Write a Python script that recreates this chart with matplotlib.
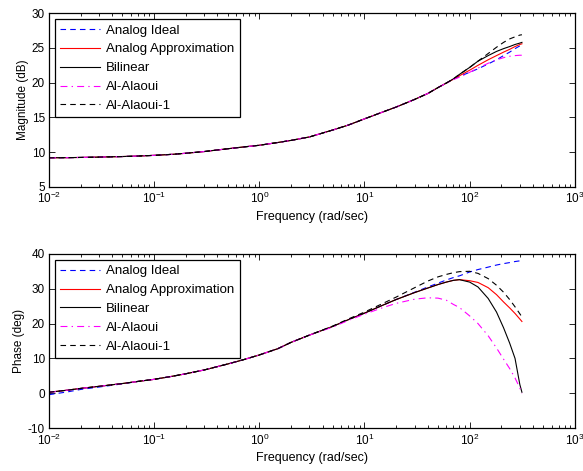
import matplotlib
matplotlib.use("Agg")
import matplotlib.pyplot as plt
from matplotlib.ticker import LogLocator, NullFormatter

plt.rcParams['font.family'] = ['Liberation Sans', 'DejaVu Sans']
plt.rcParams['mathtext.fontset'] = 'custom'
plt.rcParams['mathtext.rm'] = 'Liberation Sans'
plt.rcParams['mathtext.it'] = 'Liberation Sans:italic'
plt.rcParams['mathtext.bf'] = 'Liberation Sans:bold'
plt.rcParams['axes.unicode_minus'] = False
plt.rcParams['lines.scale_dashes'] = False

# Frequency grid (rad/sec)
freq = [0.01, 0.015, 0.02, 0.03, 0.05, 0.07, 0.1, 0.15, 0.2, 0.3, 0.5, 0.7,
        1, 1.5, 2, 3, 5, 7, 10, 15, 20, 30, 40, 50, 60, 70,
        80, 100, 120, 150, 180, 210, 240, 270, 300, 314]

# Magnitude responses (dB)
mag_ideal = [9.20, 9.22, 9.25, 9.30, 9.38, 9.45, 9.55, 9.70, 9.85, 10.10, 10.50, 10.75,
             11.00, 11.40, 11.70, 12.20, 13.20, 13.90, 14.80, 15.80, 16.50, 17.60, 18.45, 19.30, 19.95, 20.50,
             20.90, 21.50, 22.00, 22.70, 23.30, 23.90, 24.40, 24.90, 25.30, 25.50]
mag_approx = [9.20, 9.22, 9.25, 9.30, 9.38, 9.45, 9.55, 9.70, 9.85, 10.10, 10.50, 10.75,
              11.00, 11.40, 11.70, 12.20, 13.20, 13.90, 14.80, 15.80, 16.50, 17.60, 18.45, 19.30, 19.95, 20.50,
              21.00, 21.80, 22.50, 23.30, 23.90, 24.40, 24.80, 25.20, 25.50, 25.60]
mag_bilinear = [9.20, 9.22, 9.25, 9.30, 9.38, 9.45, 9.55, 9.70, 9.85, 10.10, 10.50, 10.75,
                11.00, 11.40, 11.70, 12.20, 13.20, 13.90, 14.80, 15.80, 16.50, 17.60, 18.45, 19.30, 19.95, 20.55,
                21.20, 22.20, 23.10, 23.90, 24.50, 24.90, 25.20, 25.50, 25.70, 25.80]
mag_alaoui = [9.20, 9.22, 9.25, 9.30, 9.38, 9.45, 9.55, 9.70, 9.85, 10.10, 10.50, 10.75,
              11.00, 11.40, 11.70, 12.20, 13.20, 13.90, 14.80, 15.80, 16.50, 17.60, 18.45, 19.30, 19.95, 20.45,
              20.80, 21.50, 22.10, 22.80, 23.30, 23.60, 23.80, 23.90, 23.95, 23.95]
mag_alaoui1 = [9.20, 9.22, 9.25, 9.30, 9.38, 9.45, 9.55, 9.70, 9.85, 10.10, 10.50, 10.75,
               11.00, 11.40, 11.70, 12.20, 13.20, 13.90, 14.80, 15.80, 16.50, 17.60, 18.45, 19.30, 19.95, 20.55,
               21.20, 22.20, 23.10, 24.20, 25.10, 25.80, 26.30, 26.60, 26.85, 26.90]

# Phase responses (deg)
ph_ideal = [-0.4, 0.4, 1.1, 1.8, 2.7, 3.4, 4.0, 4.9, 5.6, 6.7, 8.4, 9.6,
            11.0, 12.8, 14.6, 16.7, 19.2, 21.1, 23.0, 25.3, 26.9, 29.0, 30.5, 31.6, 32.5, 33.2,
            33.7, 34.8, 35.5, 36.2, 36.8, 37.2, 37.5, 37.8, 38.0, 38.1]
ph_approx = [0.3, 0.9, 1.4, 2.0, 2.8, 3.4, 4.0, 4.9, 5.6, 6.7, 8.4, 9.6,
             11.0, 12.8, 14.6, 16.7, 19.2, 21.1, 23.0, 25.3, 26.9, 28.9, 30.2, 31.2, 31.9, 32.4,
             32.6, 32.3, 31.8, 30.3, 28.3, 26.2, 24.5, 22.9, 21.3, 20.6]
ph_bilinear = [0.3, 0.9, 1.4, 2.0, 2.8, 3.4, 4.0, 4.9, 5.6, 6.7, 8.4, 9.6,
               11.0, 12.8, 14.6, 16.7, 19.2, 21.1, 23.0, 25.3, 26.9, 28.9, 30.2, 31.2, 31.9, 32.4,
               32.6, 31.9, 30.5, 27.2, 23.3, 18.8, 14.4, 10.0, 2.5, 0.3]
ph_alaoui = [0.3, 0.9, 1.4, 2.0, 2.8, 3.4, 4.0, 4.9, 5.6, 6.7, 8.4, 9.6,
             11.0, 12.8, 14.6, 16.7, 19.0, 20.9, 22.7, 24.6, 25.8, 27.0, 27.4, 27.3, 26.7, 25.5,
             24.6, 22.2, 20.0, 16.5, 13.0, 9.8, 7.1, 4.4, 1.5, 0.0]
ph_alaoui1 = [0.3, 0.9, 1.4, 2.0, 2.8, 3.4, 4.0, 4.9, 5.6, 6.7, 8.4, 9.6,
              11.0, 12.8, 14.6, 16.7, 19.3, 21.3, 23.3, 25.8, 27.6, 30.3, 32.2, 33.4, 34.1, 34.6,
              34.9, 35.0, 34.4, 32.9, 31.0, 29.0, 26.9, 24.8, 22.8, 21.9]

labels = ['Analog Ideal', 'Analog Approximation', 'Bilinear', 'Al-Alaoui', 'Al-Alaoui-1']
colors = ['#0000ff', '#ff0000', '#000000', '#ff00ff', '#000000']
styles = [(0, (4, 3)), '-', '-', (0, (5, 3, 1, 3)), (0, (4, 3))]

fig = plt.figure(figsize=(5.83, 4.71), dpi=100)
ax1 = fig.add_axes([0.084, 0.603, 0.902, 0.369])
ax2 = fig.add_axes([0.084, 0.091, 0.902, 0.370])


def style_axis(ax, ylim, yticks, ylabel):
    ax.set_xscale('log')
    ax.set_xlim(1e-2, 1e3)
    ax.set_ylim(*ylim)
    ax.set_yticks(yticks)
    ax.xaxis.set_major_locator(LogLocator(base=10, numticks=10))
    ax.xaxis.set_minor_locator(LogLocator(base=10, subs=range(2, 10), numticks=20))
    ax.xaxis.set_minor_formatter(NullFormatter())
    ax.tick_params(which='both', direction='in', top=True, right=True,
                   labelsize=8.5, width=0.6, colors='black', pad=3)
    ax.tick_params(which='major', length=4)
    ax.tick_params(which='minor', length=2)
    for s in ax.spines.values():
        s.set_linewidth(0.9)
    ax.set_xlabel('Frequency (rad/sec)', fontsize=9, labelpad=3)
    ax.set_ylabel(ylabel, fontsize=8.5, labelpad=2)


mags = [mag_ideal, mag_approx, mag_bilinear, mag_alaoui, mag_alaoui1]
phases = [ph_ideal, ph_approx, ph_bilinear, ph_alaoui, ph_alaoui1]

for ax, data in ((ax1, mags), (ax2, phases)):
    for y, lab, c, ls in zip(data, labels, colors, styles):
        ax.plot(freq, y, color=c, linestyle=ls, linewidth=0.8, label=lab)
    leg = ax.legend(loc='upper left', fontsize=9.5, frameon=True, fancybox=False,
                    edgecolor='black', framealpha=1, borderaxespad=0.45,
                    handlelength=3.0, handletextpad=0.5, labelspacing=0.5,
                    borderpad=0.4)
    leg.get_frame().set_linewidth(0.9)

style_axis(ax1, (5, 30), [5, 10, 15, 20, 25, 30], 'Magnitude (dB)')
style_axis(ax2, (-10, 40), [-10, 0, 10, 20, 30, 40], 'Phase (deg)')

fig.savefig('out.png', dpi=100)
